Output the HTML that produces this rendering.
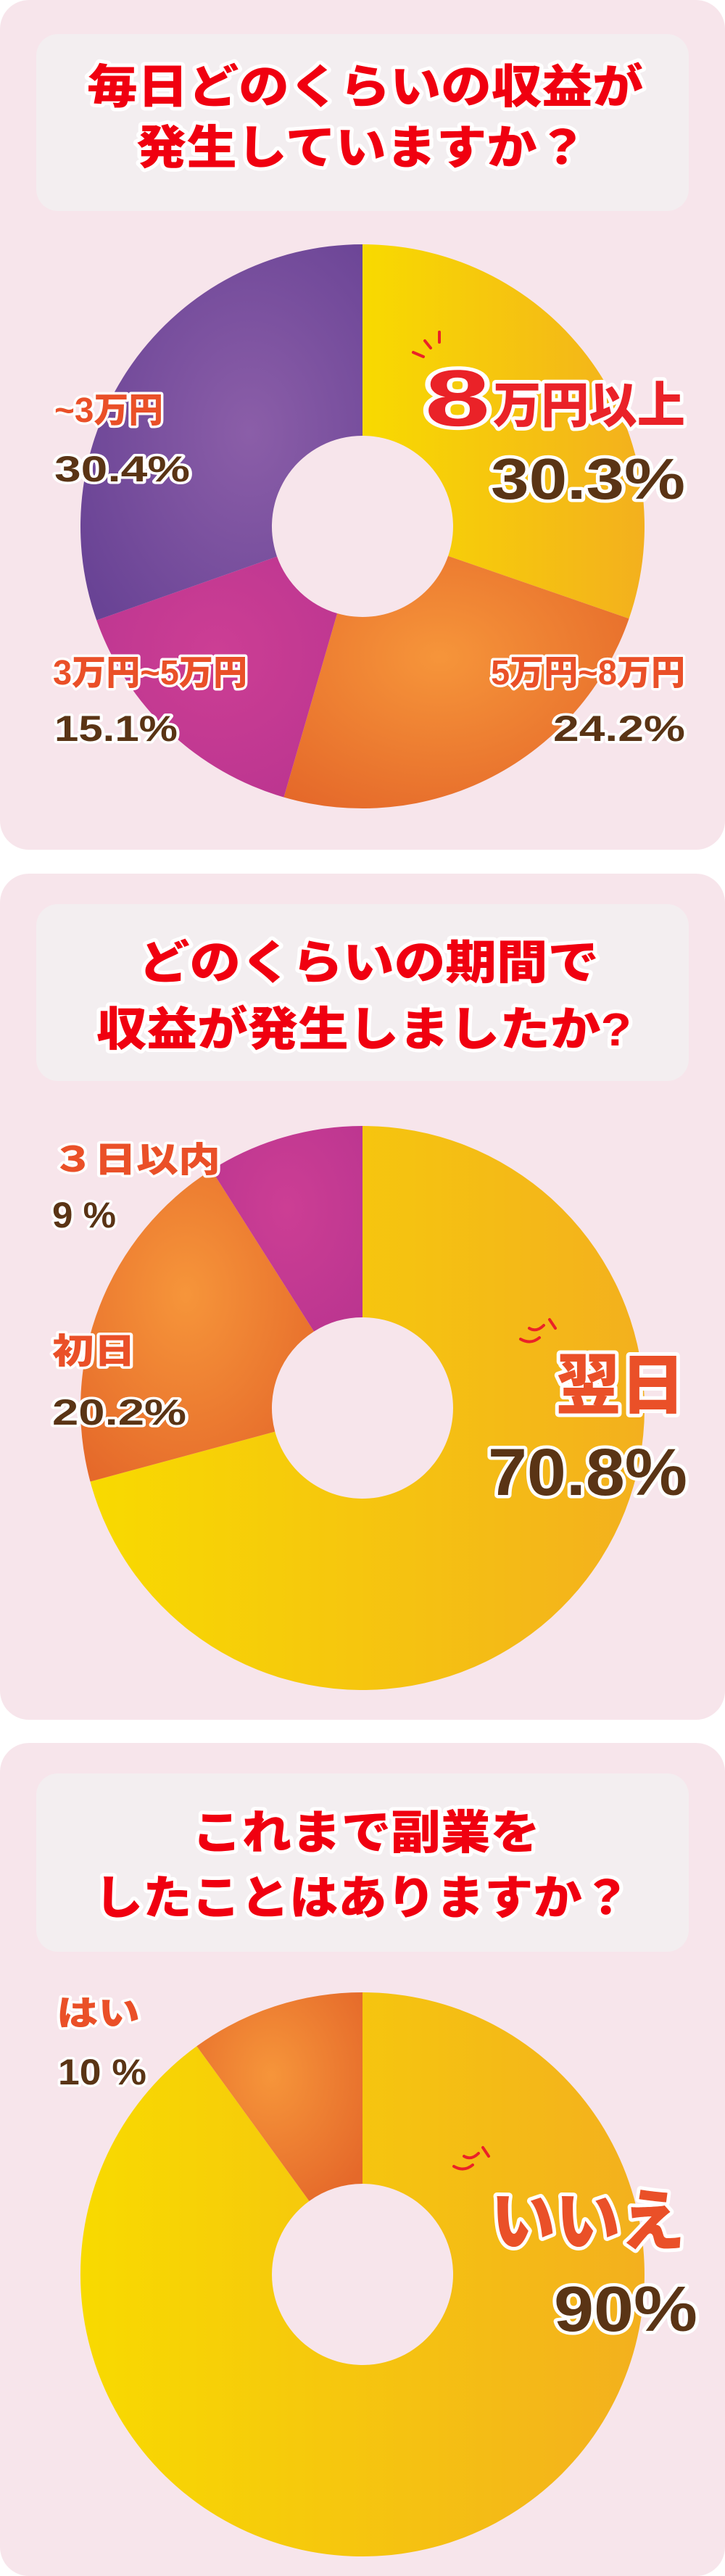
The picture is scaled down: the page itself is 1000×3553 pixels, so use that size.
<!DOCTYPE html>
<html><head><meta charset="utf-8"><style>
html,body{margin:0;padding:0;background:#fff}
svg{display:block}
text{font-family:"Liberation Sans","Noto Sans CJK JP",sans-serif;font-weight:900;paint-order:stroke;stroke-linejoin:round}
.t{fill:#f00010;stroke:#fff;stroke-width:10;font-size:64px}
.l{fill:#ea5028;stroke:#fff;stroke-width:7;font-size:48px}
.p{fill:#5a3415;stroke:#fff;stroke-width:7;font-size:50px}
.bl{fill:#ea2228;stroke:#fff;stroke-width:10}
.bp{fill:#5a3415;stroke:#fff;stroke-width:9}
</style></head><body>
<svg width="1000" height="3553" viewBox="0 0 1000 3553" xmlns="http://www.w3.org/2000/svg">
<defs>
<linearGradient id="y" x1="0" x2="1" y1="0" y2="0"><stop offset="0" stop-color="#f8da00"/><stop offset="1" stop-color="#f3b01e"/></linearGradient>
<radialGradient id="o1" cx="0.45" cy="0.4" r="0.7"><stop offset="0" stop-color="#f6953a"/><stop offset="1" stop-color="#e5692a"/></radialGradient>
<radialGradient id="pu" cx="0.6" cy="0.5" r="0.7"><stop offset="0" stop-color="#8b5ea8"/><stop offset="1" stop-color="#694395"/></radialGradient>
<radialGradient id="m" cx="0.5" cy="0.4" r="0.7"><stop offset="0" stop-color="#cc3e94"/><stop offset="1" stop-color="#bb3590"/></radialGradient>
</defs>

<rect x="0" y="0" width="1000" height="1172" rx="40" fill="#f7e5eb"/>
<rect x="0" y="1205" width="1000" height="1167" rx="40" fill="#f7e5eb"/>
<rect x="0" y="2404" width="1000" height="1149" rx="40" fill="#f7e5eb"/>

<rect x="50" y="47" width="900" height="244" rx="30" fill="#f3eef0"/>
<rect x="50" y="1247" width="900" height="244" rx="30" fill="#f3eef0"/>
<rect x="50" y="2446" width="900" height="246" rx="30" fill="#f3eef0"/>

<text class="t" x="120" y="142" textLength="767" lengthAdjust="spacingAndGlyphs" font-size="60">毎日どのくらいの収益が</text>
<text class="t" x="188" y="226" textLength="622" lengthAdjust="spacingAndGlyphs">発生していますか？</text>
<text class="t" x="191" y="1350" textLength="635" lengthAdjust="spacingAndGlyphs">どのくらいの期間で</text>
<text class="t" x="133" y="1442" textLength="738" lengthAdjust="spacingAndGlyphs">収益が発生しましたか?</text>
<text class="t" x="265" y="2550" textLength="480" lengthAdjust="spacingAndGlyphs">これまで副業を</text>
<text class="t" x="130" y="2640" textLength="740" lengthAdjust="spacingAndGlyphs">したことはありますか？</text>

<path fill="url(#y)" d="M500,337 A389,389 0 0 1 867.6,853.2 L618.1,766.9 A125,125 0 0 0 500,601 Z"/>
<path fill="url(#o1)" d="M867.6,853.2 A389,389 0 0 1 391.5,1099.6 L465.1,846.0 A125,125 0 0 0 618.1,766.9 Z"/>
<path fill="url(#m)" d="M391.5,1099.6 A389,389 0 0 1 133.2,855.5 L382.1,767.6 A125,125 0 0 0 465.1,846.0 Z"/>
<path fill="url(#pu)" d="M133.2,855.5 A389,389 0 0 1 500,337 L500,601 A125,125 0 0 0 382.1,767.6 Z"/>

<text class="bl" x="586" y="587" font-size="110" textLength="90" lengthAdjust="spacingAndGlyphs">8</text>
<text class="bl" x="680" y="583" font-size="68" textLength="265" lengthAdjust="spacingAndGlyphs">万円以上</text>
<text class="bp" x="677" y="688" font-size="80" textLength="268" lengthAdjust="spacingAndGlyphs">30.3%</text>
<path d="M570,486 l14,6 M586,470 l8,10 M606,458 l0,14" stroke="#ea2228" stroke-width="4" fill="none" stroke-linecap="round"/>

<text class="l" x="75" y="582" textLength="150" lengthAdjust="spacingAndGlyphs">~3万円</text>
<text class="p" x="75" y="664" textLength="187" lengthAdjust="spacingAndGlyphs">30.4%</text>
<text class="l" x="73" y="944" textLength="268" lengthAdjust="spacingAndGlyphs">3万円~5万円</text>
<text class="p" x="75" y="1022" textLength="170" lengthAdjust="spacingAndGlyphs">15.1%</text>
<text class="l" x="677" y="944" textLength="268" lengthAdjust="spacingAndGlyphs">5万円~8万円</text>
<text class="p" x="763" y="1022" textLength="182" lengthAdjust="spacingAndGlyphs">24.2%</text>

<path fill="url(#y)" d="M500,1553 A389,389 0 1 1 124.5,2043.5 L379.3,1974.6 A125,125 0 1 0 500,1817 Z"/>
<path fill="url(#o1)" d="M124.5,2043.5 A389,389 0 0 1 291.6,1613.6 L433.0,1836.5 A125,125 0 0 0 379.3,1974.6 Z"/>
<path fill="url(#m)" d="M291.6,1613.6 A389,389 0 0 1 500,1553 L500,1817 A125,125 0 0 0 433.0,1836.5 Z"/>

<text class="l" x="72" y="1616" textLength="232" lengthAdjust="spacingAndGlyphs">３日以内</text>
<text class="p" x="72" y="1693" textLength="88" lengthAdjust="spacingAndGlyphs">9 %</text>
<text class="l" x="72" y="1880" textLength="115" lengthAdjust="spacingAndGlyphs">初日</text>
<text class="p" x="72" y="1965" textLength="185" lengthAdjust="spacingAndGlyphs">20.2%</text>
<text class="bl" x="767" y="1942" font-size="90" textLength="178" lengthAdjust="spacingAndGlyphs" style="fill:#ea5028">翌日</text>
<text class="bp" x="673" y="2062" font-size="92" textLength="275" lengthAdjust="spacingAndGlyphs">70.8%</text>
<path d="M718,1847 q14,8 26,-2 M730,1832 q10,6 20,-4 M758,1820 l8,12" stroke="#ea2228" stroke-width="4" fill="none" stroke-linecap="round"/>

<path fill="url(#y)" d="M500,2748 A389,389 0 1 1 271.3,2822.3 L426.5,3035.9 A125,125 0 1 0 500,3012 Z"/>
<path fill="url(#o1)" d="M271.3,2822.3 A389,389 0 0 1 500,2748 L500,3012 A125,125 0 0 0 426.5,3035.9 Z"/>

<text class="l" x="78" y="2793" textLength="115" lengthAdjust="spacingAndGlyphs">はい</text>
<text class="p" x="80" y="2875" textLength="122" lengthAdjust="spacingAndGlyphs">10 %</text>
<text class="bl" x="677" y="3096" font-size="92" textLength="268" lengthAdjust="spacingAndGlyphs" style="fill:#ea5028">いいえ</text>
<text class="bp" x="764" y="3215" font-size="88" textLength="198" lengthAdjust="spacingAndGlyphs">90%</text>
<path d="M626,2988 q14,8 26,-2 M640,2974 q10,6 20,-4 M666,2962 l8,12" stroke="#ea2228" stroke-width="4" fill="none" stroke-linecap="round"/>
</svg>
</body></html>
